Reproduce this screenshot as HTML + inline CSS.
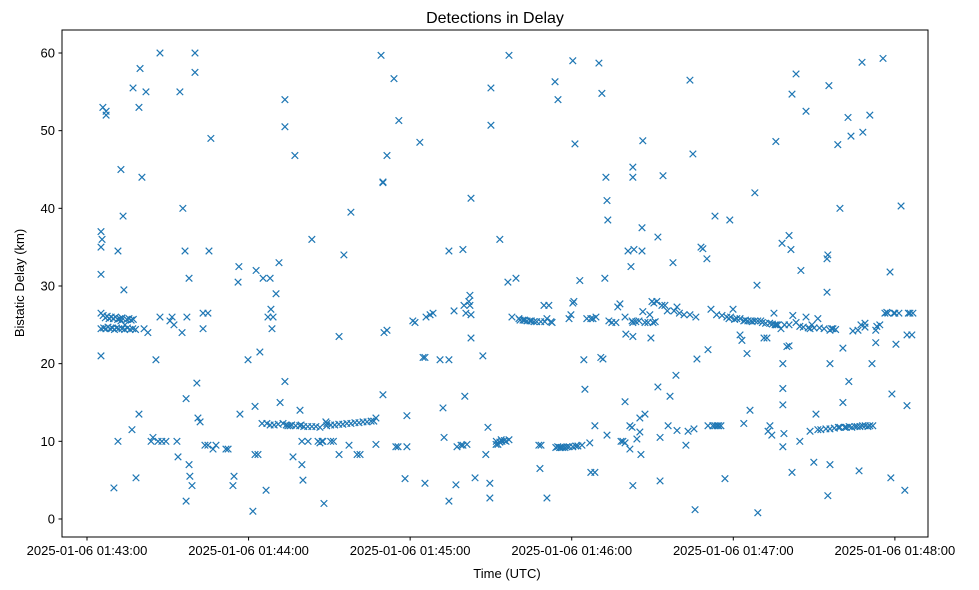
<!DOCTYPE html>
<html><head><meta charset="utf-8"><style>
html,body{margin:0;padding:0;background:#fff;}
svg{display:block;font-family:"Liberation Sans","DejaVu Sans",sans-serif;}
</style></head><body>
<svg id="chart" width="979" height="590" viewBox="0 0 979 590" xmlns="http://www.w3.org/2000/svg">
<rect width="979" height="590" fill="#fff"/>
<text x="495" y="23" text-anchor="middle" font-size="16" fill="#000">Detections in Delay</text>
<g id="marks"></g>
<g id="axes"></g>
<text x="507" y="578" text-anchor="middle" font-size="13" fill="#000">Time (UTC)</text>
<text transform="translate(24,283) rotate(-90)" text-anchor="middle" font-size="13" fill="#000">Bistatic Delay (km)</text>
</svg>
<script>
// Seconds after 01:43:00 and bistatic delay in km
const detectionPoints = [
[5.2,37],[5.2,35],[5.6,36],[5.2,31.5],[5.2,26.5],[5.2,24.5],[5.2,21],[5.9,53],[7.1,52.5],[7.1,52],[10.0,4],[11.5,10],[11.5,34.5],[12.6,45],[13.4,39],[13.7,29.5],[12.6,25.5],[14.1,25],[16.7,11.5],[17.1,55.5],[18.2,5.3],[19.3,53],[19.7,58],[19.3,13.5],[20.4,44],[21.2,24.5],[21.9,55],[22.6,24],[23.8,10],[24.5,10.5],[25.6,20.5],[27.1,26],[27.1,60],[26.4,10],[27.8,10],[29.3,10],[30.8,25.5],[31.6,26],[32.3,25],[33.4,10],[33.8,8],[34.5,55],[35.3,24],[35.6,40],[36.4,34.5],[36.8,2.3],[36.8,15.5],[37.1,26],[37.9,31],[37.9,7],[38.2,5.5],[39.0,4.3],[40.1,60],[40.1,57.5],[40.8,17.5],[41.2,13],[42.0,12.5],[43.1,24.5],[43.1,26.5],[43.8,9.5],[44.9,9.5],[44.9,26.5],[45.3,34.5],[46.0,49],[46.8,9],[47.9,9.5],[51.6,9],[52.4,9],[54.2,4.3],[54.6,5.5],[56.1,30.5],[56.4,32.5],[56.8,13.5],[59.8,20.5],[61.6,1],[62.4,14.5],[62.4,8.3],[63.5,8.3],[62.8,32],[64.2,21.5],[65.0,12.3],[65.4,31],[66.5,3.7],[66.8,12.3],[67.2,26],[68.0,31],[68.3,27],[68.7,24.5],[69.1,26],[70.2,29],[71.3,33],[71.7,15],[72.8,12.3],[73.5,54],[73.5,50.5],[73.5,17.7],[74.6,12],
[6.0,26.2],[6.8,25.9],[7.5,26.1],[8.2,25.8],[9.0,26],[9.8,25.8],[10.6,26],[11.4,25.7],[12.2,25.8],[13.0,25.9],[14.8,25.7],[15.6,25.8],[16.4,25.6],[17.2,25.7],[6.2,24.6],[7.0,24.5],[7.8,24.7],[8.6,24.5],[9.4,24.6],[10.2,24.4],[11.0,24.6],[11.8,24.5],[13.0,24.5],[14.0,24.4],[15.0,24.6],[16.0,24.4],[17.0,24.5],[18.0,24.4],
[75.4,12],[76.5,8],[77.2,46.8],[79.1,14],[79.8,7],[80.2,5],[79.5,12.1],[79.8,10],[82.1,10],[83.5,36],[85.8,10],[86.5,9.8],[87.3,10],[87.6,10],[88.0,2],[88.7,12.5],[89.1,12.3],[93.6,23.5],[93.6,8.3],[95.4,34],[97.3,9.5],[98.0,39.5],[100.3,8.3],[101.4,8.3],[107.3,9.6],[107.3,13],[109.2,59.7],[109.9,16],[109.9,43.3],[109.9,43.4],[110.3,24],[111.4,46.8],[111.4,24.3],[114.0,56.7],[114.7,9.3],[115.5,9.3],[115.8,51.3],[118.1,5.2],[118.8,13.3],[118.8,9.3],[121.0,25.5],[121.8,25.3],[123.6,48.5],[124.8,20.8],[125.5,4.6],[125.5,20.8],[125.9,26],[127.4,26.3],[128.5,26.5],[131.1,20.5],[132.2,14.3],[132.6,10.5],[134.4,20.5],[134.4,2.3],[134.4,34.5],[136.3,26.8],[137.0,4.4],[137.4,9.3],[138.9,9.5],[139.6,34.7],[139.6,9.5],[140.0,27.5],[140.3,15.8],[141.1,9.6],[140.7,26.5],[141.8,28],[142.2,28.8],[142.2,27.5],[142.6,41.3],[142.6,26.3],[142.6,23.3],[144.1,5.3],[147.0,21],[148.1,8.3],[148.9,11.8],[149.6,2.7],[149.6,4.6],[150.0,55.5],[150.0,50.7],[151.9,9.6],[152.6,9.6],[153.3,36],[153.3,9.9],[154.1,10],[155.6,10],[156.7,10.2],[156.7,59.7],[156.3,30.5],
[68.0,12.1],[69.5,12.1],[71.0,12.2],[74.0,12.1],[76.0,12.1],[77.5,12.0],[79.0,12.0],[80.5,11.9],[82.0,11.9],[83.5,11.9],[85.0,11.9],[86.5,11.8],[89.0,12.0],[90.5,12.1],[92.0,12.1],[93.5,12.2],[95.0,12.2],[96.5,12.3],[98.0,12.3],[99.5,12.4],[101.0,12.4],[102.5,12.5],[104.0,12.5],[105.5,12.6],[106.5,12.6],[90.5,10],[91.5,10],[152.0,10],[153.8,10.2],[155.0,10.1],
[157.8,26],[159.3,31],[160.4,25.8],[160.8,25.6],[161.9,25.6],[163.4,25.5],[164.5,25.5],[166.0,25.4],[168.2,6.5],[167.8,9.5],[168.6,9.5],[169.7,27.5],[170.8,2.7],[170.8,25.8],[171.5,27.5],[172.3,25.4],[172.7,25.3],[173.8,56.3],[174.1,9.2],[174.9,54],[176.0,9.2],[176.7,9.2],[178.2,9.3],[179.0,25.8],[179.7,26.3],[180.4,27.8],[180.8,28],[180.4,59],[180.4,9.3],[181.2,48.3],[182.3,9.4],[183.0,30.7],[183.8,9.5],[184.5,20.5],[184.9,16.7],[185.6,25.8],[186.7,9.8],[187.1,6],[187.1,25.8],[187.9,25.8],[188.6,6],[188.6,12],[189.0,26],[190.1,58.7],[190.8,20.8],[191.6,20.6],[191.2,54.8],[192.3,31],[192.7,44],[193.1,10.8],[193.1,41],[193.4,38.5],[193.8,25.5],[194.9,25.3],[196.4,25.3],[197.1,27.3],[197.9,27.7],[198.3,10],[199.0,10],[199.8,9.8],[199.8,15.1],[199.8,26],[200.1,23.8],[200.9,34.5],[201.6,9],[201.6,12],[202.0,32.5],[202.4,11.8],[202.4,25.5],[202.7,45.3],[202.7,44],[202.7,23.5],[202.7,25.3],[202.7,4.3],[203.1,34.7],[204.2,10.3],[205.3,11.2],[205.3,13],[205.7,8.3],[206.1,37.5],[206.1,34.5],[206.4,48.7],[206.4,26.7],[207.2,13.5],[207.2,25.3],[208.3,25.3],[209.0,26.3],[209.4,23.3],[209.8,28],[210.2,25.3],[210.5,27.8],[211.6,28],[212.0,36.3],[212.0,17],[212.8,10.5],[212.8,4.9],[213.5,27.5],[213.9,44.2],[214.6,27.5],[215.8,12],[216.5,15.8],[217.6,33],[218.0,26.8],[219.1,27.3],[218.7,18.5],[219.1,11.4],[221.7,26.3],[222.4,9.5],[223.2,11.3],[223.9,56.5],[223.9,26.3],[225.0,47],[225.4,11.6],[225.8,1.2],[226.1,26],[226.5,20.6],[228.0,35],[228.7,34.8],[230.2,33.5],[230.6,21.8],[230.6,12],[231.7,27],[232.4,12],[233.2,39],[233.2,12],[234.6,12],[235.4,12],[235.8,26.2],[236.9,5.2],[237.6,26],[238.4,25.8],[238.7,38.5],
[174.8,9.3],[175.5,9.2],[177.5,9.2],[179.0,9.3],[181.5,9.4],[162.5,25.6],[165.0,25.5],[167.0,25.4],[168.5,25.4],[170.0,25.4],[203.8,25.4],[205.0,25.5],[211.0,25.4],[215.5,26.8],[220.0,26.5],[234.0,12],[233.8,26.3],[239.0,26],
[239.9,27],[241.3,25.8],[242.5,23.7],[242.5,25.8],[243.2,23],[243.9,12.3],[243.9,25.5],[245.1,21.3],[245.4,25.5],[246.2,14],[248.0,42],[248.0,25.5],[248.8,30.1],[249.1,25.5],[249.1,0.8],[250.2,25.5],[251.4,23.3],[252.5,23.3],[252.9,11.3],[253.6,12],[254.3,10.8],[255.1,26.5],[255.5,25],[255.8,48.6],[256.6,25],[257.7,24.5],[258.1,35.5],[258.4,14.7],[258.4,16.8],[258.4,20],[258.8,11],[258.4,9.3],[259.9,22.2],[260.7,22.3],[260.7,36.5],[260.7,25],[261.4,34.7],[261.8,54.7],[261.8,6],[262.1,26.2],[263.3,25.3],[263.3,57.3],[264.7,10],[265.1,32],[264.7,24.8],[267.0,26],[267.0,52.5],[268.5,11.3],[268.5,24.5],[269.2,25],[269.9,7.3],[270.7,13.5],[271.4,25.8],[271.4,11.5],[272.5,11.5],[273.7,24.5],[274.4,11.6],[274.8,29.2],[274.8,33.5],[275.1,34],[275.1,3],[275.9,11.6],[275.9,24.3],[275.9,20],[275.5,55.8],[275.9,7],[277.0,24.5],[278.8,48.2],[279.6,40],[279.6,11.8],[280.7,15],[280.7,22],[281.4,11.8],[282.6,51.7],[282.9,17.7],[283.7,49.3],[284.4,24.2],[285.2,11.9],[286.3,24.3],[286.7,6.2],[287.4,25],[287.8,58.8],[288.1,49.8],[288.9,24.7],[288.9,25.2],[290.0,11.9],[290.7,12],[290.7,52],[291.5,20],[291.8,12],[292.9,24.3],[292.9,22.7],[293.3,24.8],[294.4,25],[295.6,59.3],[296.3,26.5],[297.4,26.5],[298.2,31.8],[298.5,5.3],[298.9,16.1],[299.6,26.5],[300.4,22.5],[301.5,26.5],[302.3,40.3],[303.7,3.7],[304.5,14.6],[304.5,23.7],[305.6,26.5],[306.3,23.7],[306.7,26.5],
[240.5,25.7],[244.5,25.6],[246.5,25.5],[247.0,25.4],[250.8,25.3],[252.0,25.2],[253.5,25.2],[254.5,25.1],[256.0,25.0],[259.0,25.0],[266.0,24.7],[267.8,24.6],[270.0,24.6],[272.0,24.6],[276.5,24.5],[278.0,24.4],[277.5,11.7],[279.0,11.8],[282.0,11.8],[283.0,11.9],[284.0,11.8],[286.0,11.9],[287.0,11.9],[288.0,12.0],[289.0,12.0],[297.0,26.6],[300.0,26.5],[305.0,26.5]
];
const yTicks = [0,10,20,30,40,50,60];
const xTickSeconds = [0,60,120,180,240,300];
const xTickLabels = ["2025-01-06 01:43:00","2025-01-06 01:44:00","2025-01-06 01:45:00","2025-01-06 01:46:00","2025-01-06 01:47:00","2025-01-06 01:48:00"];

const NS = "http://www.w3.org/2000/svg";
const L = 62, R = 928, T = 30, B = 537;
const xDom = [-9.28, 312.3], yDom = [-2.32, 62.96];
function xs(t){ return L + (t - xDom[0]) / (xDom[1] - xDom[0]) * (R - L); }
function ys(v){ return B - (v - yDom[0]) / (yDom[1] - yDom[0]) * (B - T); }
function mk(tag, attrs){ const e = document.createElementNS(NS, tag); for (const k in attrs) e.setAttribute(k, attrs[k]); return e; }

const marks = document.getElementById('marks');
detectionPoints.forEach(function(p){
  const cx = xs(p[0]), cy = ys(p[1]), s = 3.3;
  const path = mk('path', {d: 'M'+(cx-s)+','+(cy-s)+'L'+(cx+s)+','+(cy+s)+'M'+(cx-s)+','+(cy+s)+'L'+(cx+s)+','+(cy-s), stroke:'#1f77b4', 'stroke-width':'1.2', fill:'none'});
  
  
  marks.appendChild(path);
});

const axes = document.getElementById('axes');
const frame = mk('rect', {x:L, y:T, width:R-L, height:B-T, fill:'none', stroke:'#000', 'stroke-width':'1'});


axes.appendChild(frame);
yTicks.forEach(function(v){
  const y = ys(v);
  const tk = mk('line', {x1:L-3.5, x2:L, y1:y, y2:y, stroke:'#000', 'stroke-width':'1'});
  
  
  axes.appendChild(tk);
  const lb = mk('text', {x:L-7, y:y+4.5, 'text-anchor':'end', 'font-size':'13', fill:'#000'});
  lb.textContent = String(v);
  
  
  axes.appendChild(lb);
});
xTickSeconds.forEach(function(t, i){
  const x = xs(t);
  const tk = mk('line', {x1:x, x2:x, y1:B, y2:B+3.5, stroke:'#000', 'stroke-width':'1'});
  
  
  axes.appendChild(tk);
  const lb = mk('text', {x:x, y:B+18, 'text-anchor':'middle', 'font-size':'13', fill:'#000'});
  lb.textContent = xTickLabels[i];
  
  
  axes.appendChild(lb);
});
</script>
</body></html>
